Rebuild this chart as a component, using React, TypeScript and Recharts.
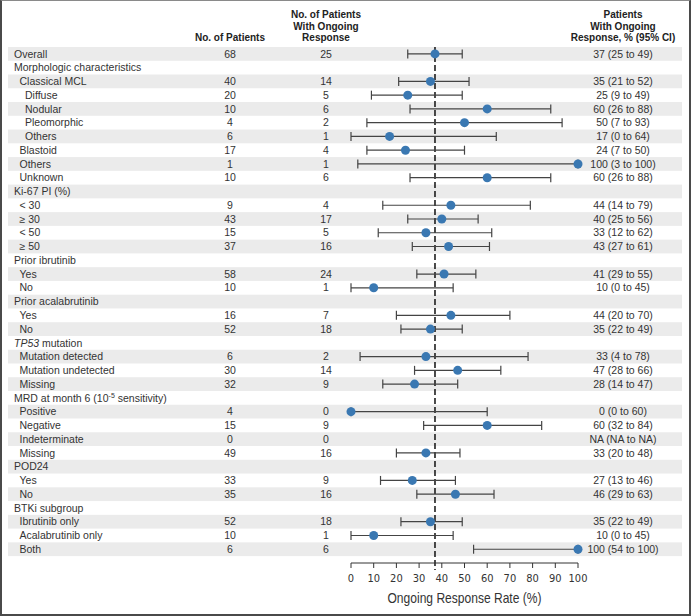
import { ErrorBar, ReferenceArea, ReferenceLine, Scatter, ScatterChart, XAxis, YAxis } from 'recharts';

const labels = [
  'Overall',
  'Morphologic characteristics',
  'Classical MCL',
  'Diffuse',
  'Nodular',
  'Pleomorphic',
  'Others',
  'Blastoid',
  'Others',
  'Unknown',
  'Ki-67 PI (%)',
  '< 30',
  '≥ 30',
  '< 50',
  '≥ 50',
  'Prior ibrutinib',
  'Yes',
  'No',
  'Prior acalabrutinib',
  'Yes',
  'No',
  'TP53 mutation',
  'Mutation detected',
  'Mutation undetected',
  'Missing',
  'MRD at month 6 (10^-5 sensitivity)',
  'Positive',
  'Negative',
  'Indeterminate',
  'Missing',
  'POD24',
  'Yes',
  'No',
  'BTKi subgroup',
  'Ibrutinib only',
  'Acalabrutinib only',
  'Both',
];

const indents = [0, 0, 1, 2, 2, 2, 2, 1, 1, 1, 0, 1, 1, 1, 1, 0, 1, 1, 0, 1, 1, 0, 1, 1, 1, 0, 1, 1, 1, 1, 0, 1, 1, 0, 1, 1, 1];

const patients = [68, null, 40, 20, 10, 4, 6, 17, 1, 10, null, 9, 43, 15, 37, null, 58, 10, null, 16, 52, null, 6, 30, 32, null, 4, 15, 0, 49, null, 33, 35, null, 52, 10, 6];
const responders = [25, null, 14, 5, 6, 2, 1, 4, 1, 6, null, 4, 17, 5, 16, null, 24, 1, null, 7, 18, null, 2, 14, 9, null, 0, 9, 0, 16, null, 9, 16, null, 18, 1, 6];
const rates = [37, null, 35, 25, 60, 50, 17, 24, 100, 60, null, 44, 40, 33, 43, null, 41, 10, null, 44, 35, null, 33, 47, 28, null, 0, 60, null, 33, null, 27, 46, null, 35, 10, 100];
const ciLow = [25, null, 21, 9, 26, 7, 0, 7, 3, 26, null, 14, 25, 12, 27, null, 29, 0, null, 20, 22, null, 4, 28, 14, null, 0, 32, null, 20, null, 13, 29, null, 22, 0, 54];
const ciHigh = [49, null, 52, 49, 88, 93, 64, 50, 100, 88, null, 79, 56, 62, 61, null, 55, 45, null, 70, 49, null, 78, 66, 47, null, 60, 84, null, 48, null, 46, 63, null, 49, 45, 100];

const xTicks = [0, 10, 20, 30, 40, 50, 60, 70, 80, 90, 100];
const overallRate = 37;

const rowNumbers = labels.map((_, i) => i + 1);
// shaded bands on every other row, starting with the first
const bandRows = rowNumbers.filter((r) => r % 2 === 1);
const points = rates
  .map((rate, i) => ({ rate, row: i + 1, err: rate == null ? [0, 0] : [rate - (ciLow[i] ?? 0), (ciHigh[i] ?? 0) - rate] }))
  .filter((p) => p.rate != null);

const TEXT_FONT = '"Liberation Sans", Arial, sans-serif';
const AXIS_FONT = '"Liberation Sans Narrow", "DejaVu Sans Condensed", "Liberation Sans", sans-serif';

function RowLabel({ text }: { text: string }) {
  if (text.startsWith('TP53')) {
    return (
      <>
        <tspan fontStyle="italic">TP53</tspan>
        {text.slice(4)}
      </>
    );
  }
  if (text.includes('^')) {
    const [before, rest] = text.split('^');
    const [sup, ...after] = rest.split(' ');
    return (
      <>
        {before}
        <tspan dy={-4} fontSize={7}>{sup}</tspan>
        <tspan dy={4}>{' ' + after.join(' ')}</tspan>
      </>
    );
  }
  return <>{text}</>;
}

function RowTick(props: any) {
  const { y, payload } = props;
  const i = payload.value - 1;
  if (i < 0 || i >= labels.length) return null;
  const rate = rates[i];
  const hasN = patients[i] != null;
  const ci = hasN ? (rate == null ? 'NA (NA to NA)' : `${rate} (${ciLow[i]} to ${ciHigh[i]})`) : '';
  const common = { y, dy: '0.35em', fontSize: 10.5, fontFamily: TEXT_FONT, fill: '#333' };
  return (
    <g>
      <text {...common} x={14 + indents[i] * 5.5} textAnchor="start">
        <RowLabel text={labels[i]} />
      </text>
      {hasN && (
        <text {...common} x={230} textAnchor="middle">
          {patients[i]}
        </text>
      )}
      {hasN && (
        <text {...common} x={326} textAnchor="middle">
          {responders[i]}
        </text>
      )}
      {ci && (
        <text {...common} x={623} textAnchor="middle">
          {ci}
        </text>
      )}
    </g>
  );
}

// band spans the whole table width, height comes from the y scale
function Band(props: any) {
  const { y, height } = props;
  return <rect x={8} y={y} width={674} height={height} fill="#ebebeb" />;
}

function Dot(props: any) {
  const { cx, cy } = props;
  return <circle cx={cx} cy={cy} r={4.5} fill="#3a78b2" />;
}

function AxisTitle(props: any) {
  const { viewBox } = props;
  const cx = viewBox.x + viewBox.width / 2;
  return (
    <text
      x={cx}
      y={viewBox.y + 40}
      textAnchor="middle"
      fontSize={15}
      fontFamily={TEXT_FONT}
      fill="#333"
      textLength={154}
      lengthAdjust="spacingAndGlyphs"
    >
      Ongoing Response Rate (%)
    </text>
  );
}

const headerStyle = {
  position: 'absolute' as const,
  fontFamily: TEXT_FONT,
  fontWeight: 700,
  fontSize: 10,
  lineHeight: '11.5px',
  color: '#222',
  textAlign: 'center' as const,
};

export default function App() {
  return (
    <div style={{ position: 'absolute', left: 0, top: 0, width: 691, height: 616, background: '#fff' }}>
      <div style={{ position: 'absolute', left: 0, top: 0 }}>
        <ScatterChart width={691} height={616} margin={{ top: 47, right: 113, bottom: 0, left: 0 }}>
          {bandRows.map((r) => (
            <ReferenceArea
              key={r}
              y1={r - 0.5}
              y2={r + 0.5}
              x1={0}
              x2={100}
              ifOverflow="visible"
              shape={<Band />}
            />
          ))}
          <YAxis
            type="number"
            dataKey="row"
            domain={[0.5, 38]}
            reversed
            ticks={rowNumbers}
            interval={0}
            width={351}
            axisLine={false}
            tickLine={false}
            tick={<RowTick />}
            allowDataOverflow
          />
          <XAxis
            type="number"
            dataKey="rate"
            domain={[0, 100]}
            ticks={xTicks}
            interval={0}
            height={53}
            tickSize={5}
            tickMargin={6}
            axisLine={{ stroke: '#333' }}
            tickLine={{ stroke: '#333' }}
            tick={{ fontSize: 11, fill: '#333', fontFamily: AXIS_FONT }}
            label={<AxisTitle />}
          />
          <ReferenceLine
            segment={[
              { x: overallRate, y: 0.5 },
              { x: overallRate, y: 38.5 },
            ]}
            stroke="#111"
            strokeWidth={1.5}
            strokeDasharray="6 3"
            ifOverflow="visible"
          />
          <Scatter data={points} shape={<Dot />} isAnimationActive={false}>
            <ErrorBar dataKey="err" direction="x" width={4.5} stroke="#444" strokeWidth={1.2} isAnimationActive={false} />
          </Scatter>
        </ScatterChart>
      </div>
      <div
        style={{
          position: 'absolute',
          left: 0,
          top: 0,
          width: 691,
          height: 616,
          boxSizing: 'border-box',
          borderLeft: '2px solid #4a4a4a',
          borderRight: '2px solid #4a4a4a',
          borderBottom: '2px solid #4a4a4a',
          borderTop: '1px solid #8a8a8a',
          pointerEvents: 'none',
        }}
      />
      <div style={{ ...headerStyle, left: 170, top: 32, width: 120 }}>No. of Patients</div>
      <div style={{ ...headerStyle, left: 256, top: 9, width: 140 }}>
        No. of Patients
        <br />
        With Ongoing
        <br />
        Response
      </div>
      <div style={{ ...headerStyle, left: 553, top: 9, width: 140 }}>
        Patients
        <br />
        With Ongoing
        <br />
        Response, % (95% CI)
      </div>
    </div>
  );
}
